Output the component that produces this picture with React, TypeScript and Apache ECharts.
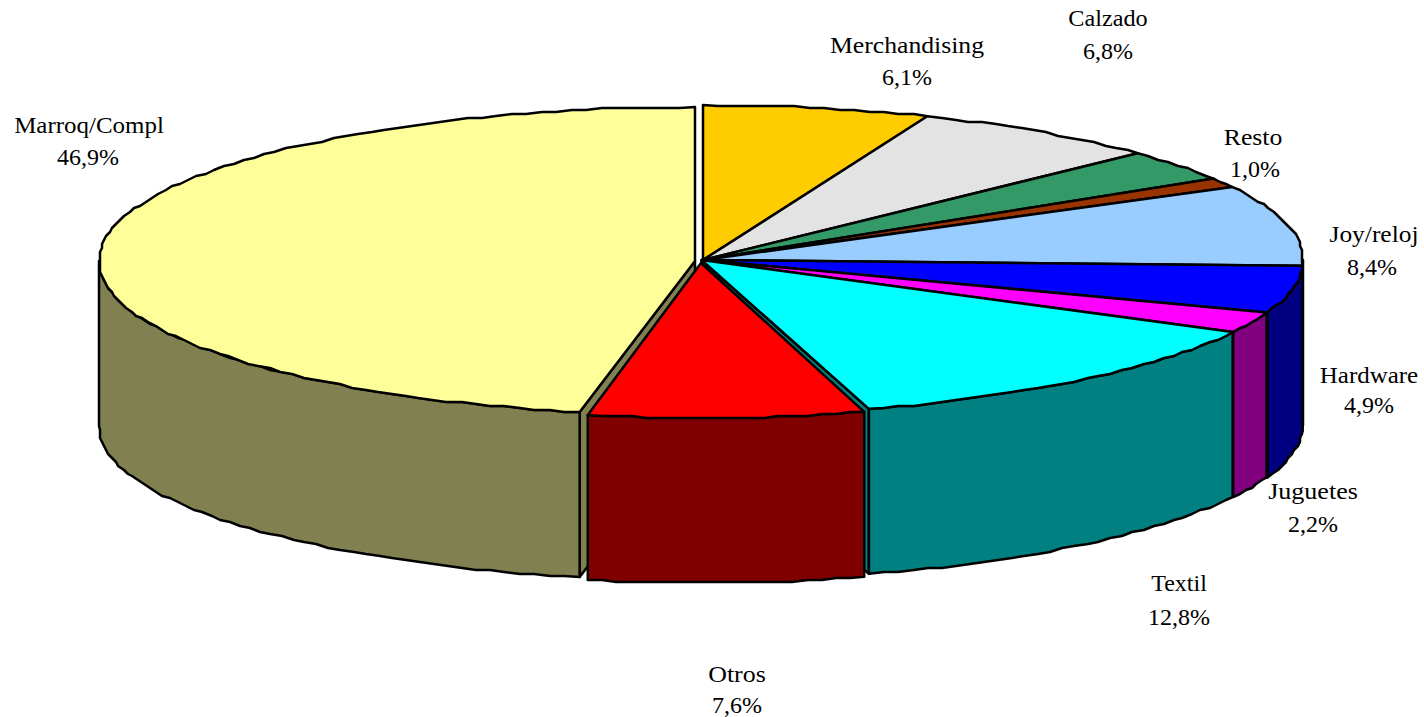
import React, { useEffect, useRef } from "react";
import * as echarts from "echarts";

const categories = ["Merchandising", "Calzado", "", "Resto", "Joy/reloj", "Hardware", "Juguetes", "Textil", "Otros", "Marroq/Compl"];
const shares = [6.1, 6.8, 3.3, 1.0, 8.4, 4.9, 2.2, 12.8, 7.6, 46.9];
const percentLabels = ["6,1%", "6,8%", "", "1,0%", "8,4%", "4,9%", "2,2%", "12,8%", "7,6%", "46,9%"];

const topColors = ["#FFCC00", "#E3E3E3", "#339966", "#993300", "#99CCFF", "#0000FF", "#FF00FF", "#00FFFF", "#FF0000", "#FFFF99"];
const sideColors = ["#806600", "#727272", "#1A4D33", "#4D1A00", "#4D6680", "#000080", "#800080", "#008080", "#800000", "#808050"];
// [name x, name y, percent x, percent y]
const labelPlaces: number[][] = [[907, 45, 907, 77], [1108, 18, 1108, 51], [0, 0, 0, 0], [1253, 137, 1255, 169], [1374, 234, 1372, 267], [1369, 375, 1369, 405], [1313, 491, 1313, 524], [1179, 583, 1179, 617], [737, 674, 737, 705], [89, 125, 88, 157]];
const nameStretch = [1.07, 1.01, 1, 1.07, 1.06, 1.04, 1.085, 1, 1.08, 1.04];
const sliceShift: [number, number][] = [[0, 0], [0, 0], [0, 0], [0, 0], [0, 0], [0, 0], [-1, 0], [-1.5, 0], [-2, 3], [-8, 1]];
const sliceRadiusX = [600, 600, 600, 600, 600, 600, 600, 600, 585, 596];
const sliceRadiusY = [155, 155, 155, 155, 155, 155, 155, 155, 155, 154];
const wallEdge = ["", "", "", "", "", "", "", "end", "", "start"];

const CX = 703, CY = 260, DEPTH = 165, SNAP = 2, STROKE = 2.5;
const FONT = '"Liberation Serif", "Times New Roman", serif';

const total = shares.reduce((a, b) => a + b, 0);
const snap = (v: number) => Math.round(v / SNAP) * SNAP;

function renderItem(params: any, api: any) {
  const i = params.dataIndex;
  const value = api.value(0);
  let before = 0;
  for (let k = 0; k < i; k++) before += shares[k];
  const a0 = (before / total) * 360;
  const a1 = ((before + value) / total) * 360;
  const cx = CX + sliceShift[i][0];
  const cy = CY + sliceShift[i][1];
  const rx = sliceRadiusX[i];
  const ry = sliceRadiusY[i];
  const pt = (deg: number): [number, number] => {
    const r = (deg * Math.PI) / 180;
    return [cx + rx * Math.sin(r), cy - ry * Math.cos(r)];
  };
  const arc = (from: number, to: number, dy = 0): [number, number][] => {
    const n = Math.max(2, Math.ceil((to - from) / 1.5));
    const out: [number, number][] = [];
    for (let k = 0; k <= n; k++) {
      const p = pt(from + ((to - from) * k) / n);
      const ends = k === 0 || k === n;
      out.push(ends ? [p[0], p[1] + dy] : [snap(p[0]), snap(p[1] + dy)]);
    }
    return out;
  };
  const z2 = categories[i] === "Otros" ? 10 : 0;
  const base = { stroke: "#000", lineWidth: STROKE, lineJoin: "round" };
  const children: any[] = [];
  const edge = wallEdge[i];
  if (edge) {
    const p = pt(edge === "start" ? a0 : a1);
    children.push({
      type: "polygon", z2,
      shape: { points: [[cx, cy], p, [p[0], p[1] + DEPTH], [cx, cy + DEPTH]] },
      style: { ...base, fill: sideColors[i] },
    });
  }
  const s0 = Math.max(a0, 90), s1 = Math.min(a1, 270);
  if (s1 > s0) {
    const pts = [...arc(s0, s1), ...arc(s0, s1, DEPTH).reverse()];
    children.push({ type: "polygon", z2, shape: { points: pts }, style: { ...base, fill: sideColors[i] } });
  }
  children.push({
    type: "polygon", z2,
    shape: { points: [[cx, cy], ...arc(a0, a1)] },
    style: { ...base, fill: topColors[i] },
  });
  if (categories[i]) {
    const [nx, ny, px, py] = labelPlaces[i];
    const textStyle = { fill: "#000", fontFamily: FONT, fontSize: 24, align: "center", verticalAlign: "middle" };
    children.push({
      type: "text", z2: 20, x: nx, y: ny, scaleX: nameStretch[i],
      style: { ...textStyle, x: 0, y: 0, text: categories[i] },
    });
    children.push({
      type: "text", z2: 20, x: px, y: py,
      style: { ...textStyle, x: 0, y: 0, text: percentLabels[i] },
    });
  }
  return { type: "group", children };
}

export default function App() {
  const ref = useRef<HTMLDivElement>(null);
  useEffect(() => {
    const chart = echarts.init(ref.current!, undefined, { renderer: "svg" });
    chart.setOption({
      animation: false,
      backgroundColor: "#fff",
      series: [{
        type: "custom",
        coordinateSystem: "none",
        silent: true,
        clip: false,
        renderItem,
        data: shares.map((v) => [v]),
      }],
    });
    return () => chart.dispose();
  }, []);
  return <div ref={ref} style={{ position: "fixed", left: 0, top: 0, width: 1424, height: 717 }} />;
}
